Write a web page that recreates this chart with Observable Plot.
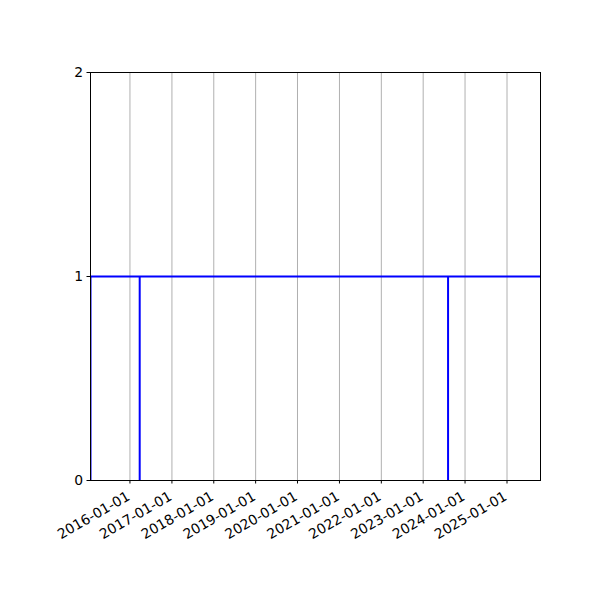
<!DOCTYPE html>
<html>
<head>
<meta charset="utf-8">
<script src="https://cdn.jsdelivr.net/npm/d3@7"></script>
<script src="https://cdn.jsdelivr.net/npm/@observablehq/plot@0.6"></script>
<style>
  html, body { margin: 0; padding: 0; background: #fff; }
</style>
</head>
<body>
<div id="chart"></div>
<script>
// Step signal: value stays at 1 except instantaneous drops to 0
const lineDates = ["2015-01-22", "2015-01-22", "2016-03-26", "2016-03-26", "2016-03-26", "2023-08-06", "2023-08-06", "2023-08-06", "2025-10-20"];
const lineValues = [0, 1, 1, 0, 1, 1, 0, 1, 1];

const xDomain = ["2015-01-22", "2025-10-20"];
const yTicks = [0, 1, 2];
const xTickLabels = ["2016-01-01", "2017-01-01", "2018-01-01", "2019-01-01", "2020-01-01",
                     "2021-01-01", "2022-01-01", "2023-01-01", "2024-01-01", "2025-01-01"];

const parse = s => new Date(s + "T00:00:00Z");
const data = lineDates.map((d, i) => ({date: parse(d), value: lineValues[i]}));
const tickDates = xTickLabels.map(parse);

const chart = Plot.plot({
  width: 600,
  height: 600,
  marginLeft: 90,
  marginRight: 60,
  marginTop: 72,
  marginBottom: 120,
  style: {fontFamily: "DejaVu Sans", fontSize: "13.9px", background: "#fff", color: "#000"},
  x: {type: "utc", domain: xDomain.map(parse)},
  y: {domain: [0, 2]},
  marks: [
    Plot.gridX(tickDates, {stroke: "#b0b0b0", strokeOpacity: 1, strokeWidth: 1}),
    Plot.line(data, {x: "date", y: "value", stroke: "#0000ff", strokeWidth: 2, clip: true}),
    Plot.frame({stroke: "#000", strokeWidth: 1}),
    Plot.axisY({ticks: yTicks, tickSize: 3.5, tickPadding: 4, tickFormat: d3.format("d"), label: null, fontSize: 13.9}),
    Plot.axisX({ticks: tickDates, tickSize: 3.5, text: null, label: null}),
    Plot.text(tickDates, {
      x: d => d,
      frameAnchor: "bottom",
      text: (d, i) => xTickLabels[i],
      rotate: -30,
      textAnchor: "end",
      lineAnchor: "top",
      dx: -4,
      dy: 10,
      fontSize: 13.9,
      fill: "#000"
    })
  ]
});
document.getElementById("chart").appendChild(chart);
</script>
</body>
</html>
